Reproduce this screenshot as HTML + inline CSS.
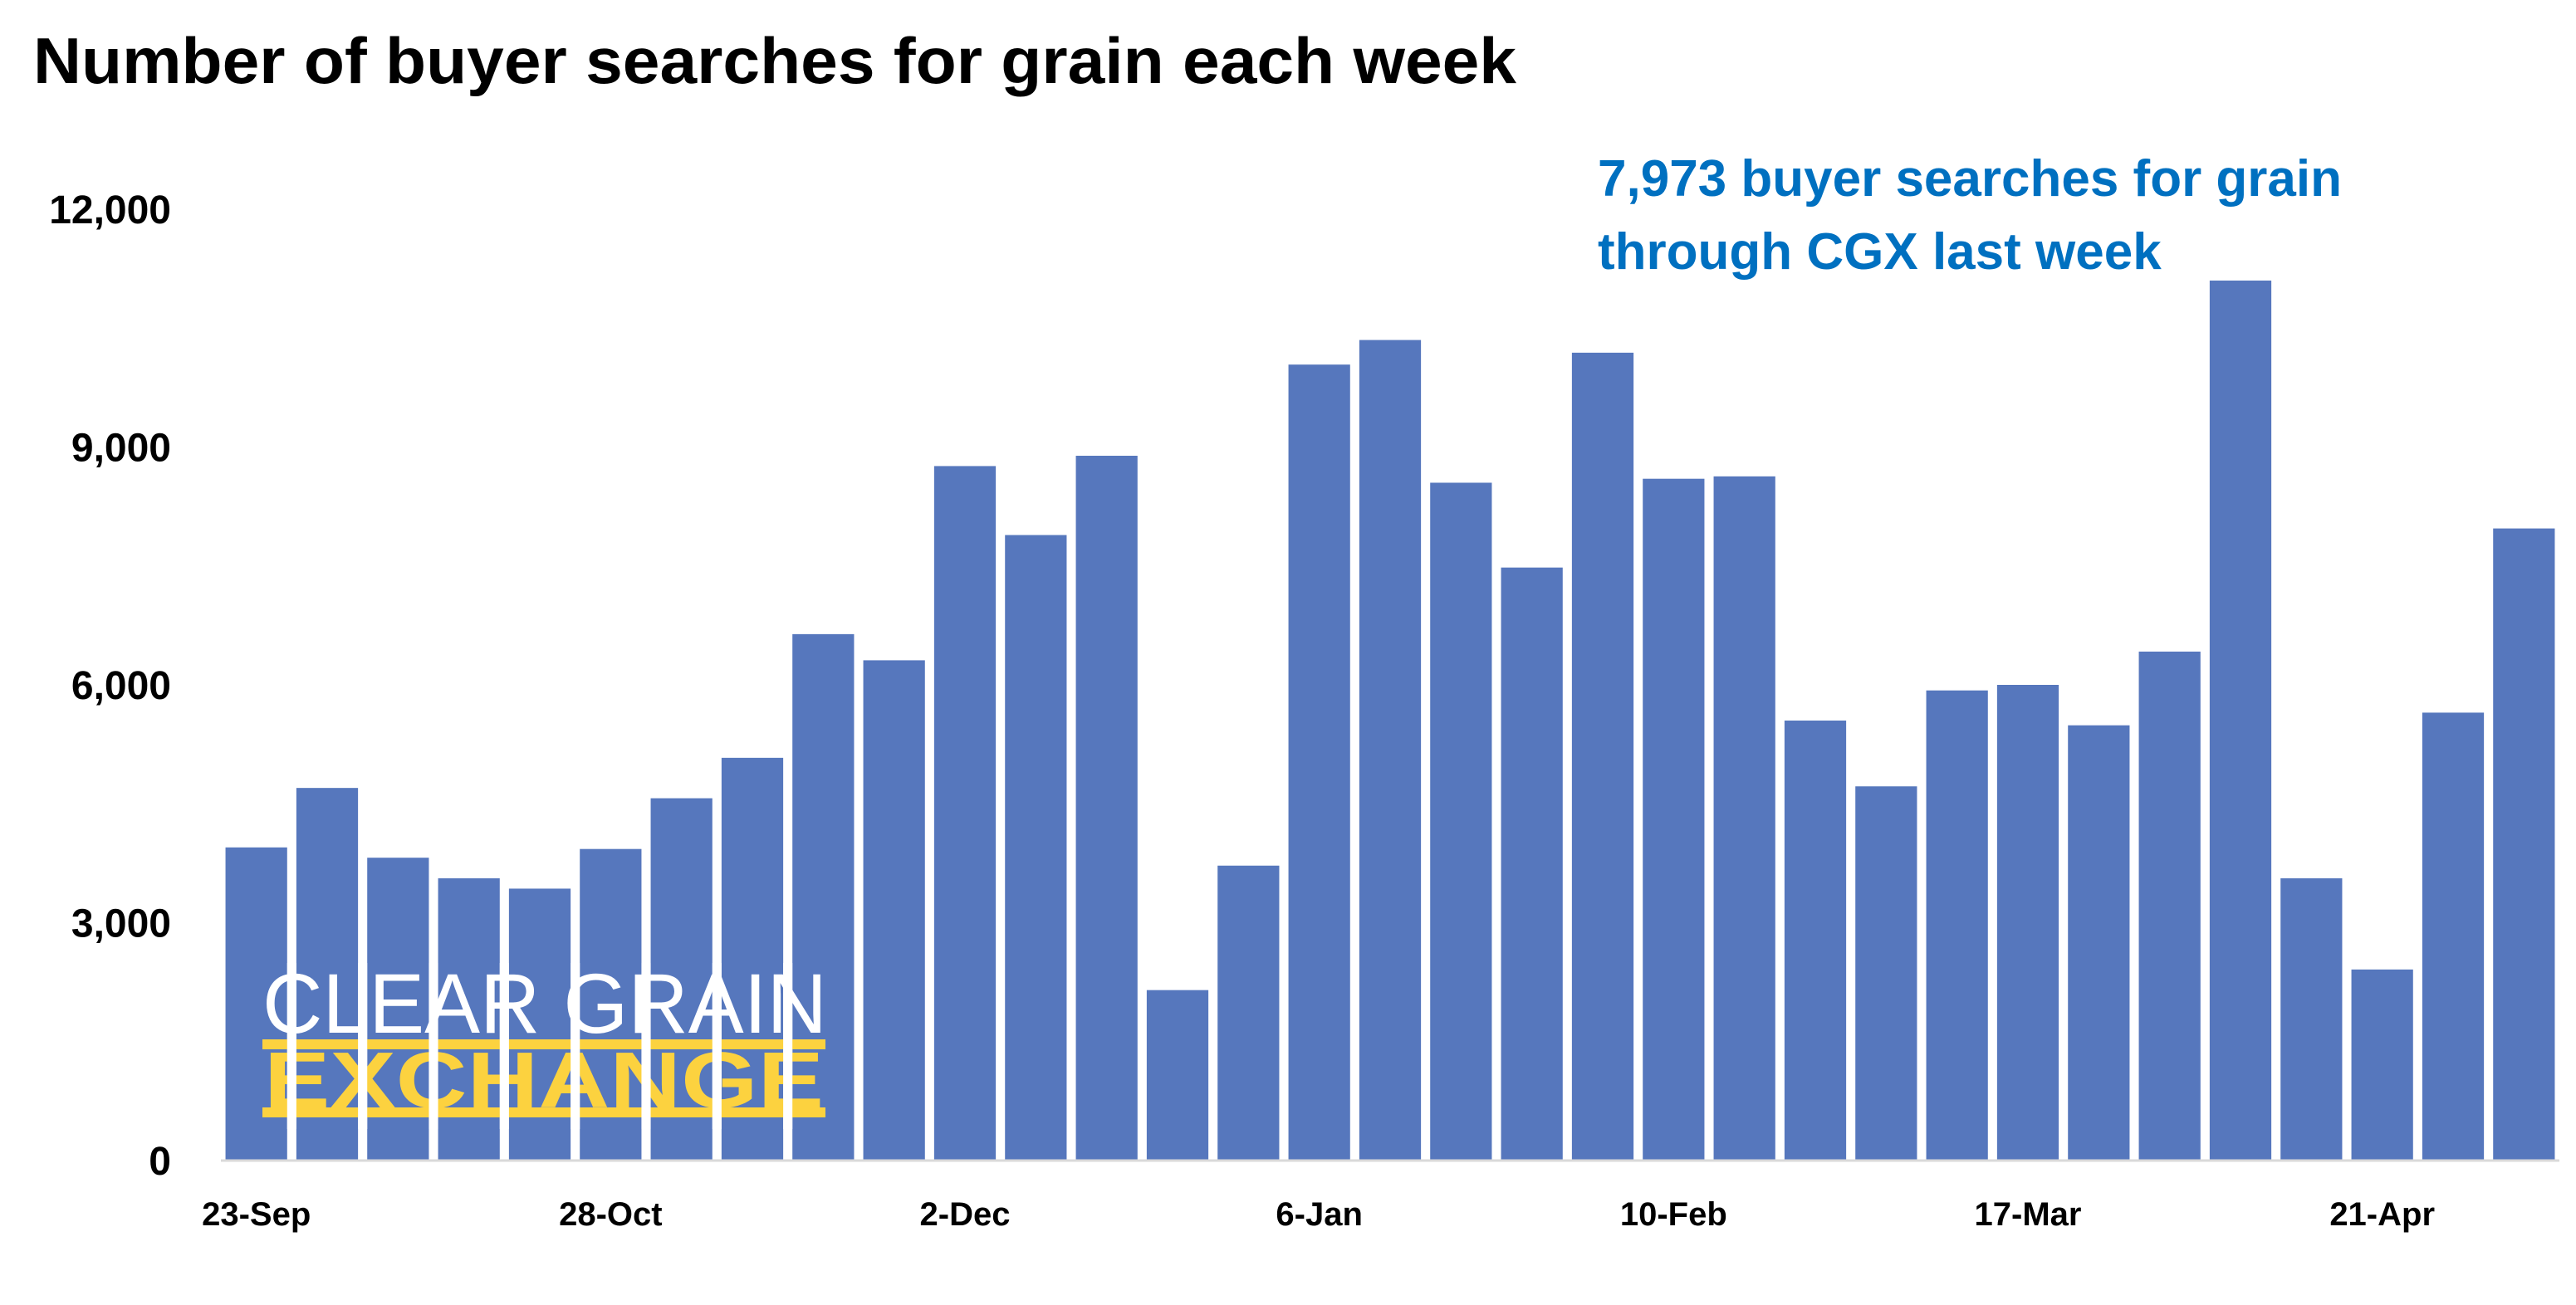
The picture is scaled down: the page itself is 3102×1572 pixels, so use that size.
<!DOCTYPE html>
<html><head><meta charset="utf-8"><style>
html,body{margin:0;padding:0;background:#fff;}
svg{display:block;font-family:"Liberation Sans",Arial,sans-serif;}
</style></head><body>
<svg id="chart" width="3102" height="1572" viewBox="0 0 3102 1572">
<text x="40" y="100" font-size="78" font-weight="bold" fill="#000" textLength="1786" lengthAdjust="spacingAndGlyphs">Number of buyer searches for grain each week</text>
<g id="yaxis"></g>
<g id="bars"></g>
<line x1="266" y1="1398" x2="3082" y2="1398" stroke="#d9d9d9" stroke-width="3"/>
<g id="xaxis"></g>
<g>
<text x="316" y="1244" font-size="102" fill="#fff" textLength="680" lengthAdjust="spacingAndGlyphs">CLEAR GRAIN</text>
<rect x="316" y="1252" width="678" height="12" fill="#FCD23F"/>
<rect x="316" y="1334" width="678" height="12" fill="#FCD23F"/>
<text x="318" y="1334" font-size="96" font-weight="bold" fill="#FCD23F" textLength="674" lengthAdjust="spacingAndGlyphs">EXCHANGE</text>
</g>
<g id="gaps"></g>
<text x="1924" y="236" font-size="62" font-weight="bold" fill="#0070C0">7,973 buyer searches for grain</text>
<text x="1924" y="324" font-size="62" font-weight="bold" fill="#0070C0">through CGX last week</text>
</svg>
<script>
const values = [3950,4700,3820,3560,3430,3930,4570,5080,6640,6310,8760,7890,8890,2150,3720,10040,10350,8550,7480,10190,8600,8630,5550,4720,5930,6000,5490,6420,11100,3560,2410,5650,7973];
const xLabels = ["23-Sep","28-Oct","2-Dec","6-Jan","10-Feb","17-Mar","21-Apr"];
const xLabelIdx = [0,5,10,15,20,25,30];
const yTicks = [0,3000,6000,9000,12000];
const NS="http://www.w3.org/2000/svg";
const x0=266, x1=3082, yBase=1398, yTop=252, yMax=12000;
const step=(x1-x0)/values.length, bw=step*0.87;
const yS=v=>yBase-(v/yMax)*(yBase-yTop);
const xS=i=>x0+i*step+(step-bw)/2;
function mk(t,a){const e=document.createElementNS(NS,t);for(const k in a)e.setAttribute(k,a[k]);return e;}
const yg=document.getElementById('yaxis');
yTicks.forEach(v=>{const t=mk('text',{x:206,y:yS(v)+17,'font-size':48,'font-weight':'bold','text-anchor':'end',fill:'#000'});


t.textContent=v.toLocaleString('en-US');yg.appendChild(t);});
const bg=document.getElementById('bars');
values.forEach((v,i)=>{const r=mk('rect',{x:xS(i),y:yS(v),width:bw,height:yBase-yS(v),fill:'#5677BD'});


bg.appendChild(r);});
const xg=document.getElementById('xaxis');
xLabels.forEach((l,j)=>{const t=mk('text',{x:xS(xLabelIdx[j])+bw/2,y:1476,'font-size':40,'font-weight':'bold','text-anchor':'middle',fill:'#000'});


t.textContent=l;xg.appendChild(t);});
const gg=document.getElementById('gaps');
for(let i=0;i<values.length-1;i++){const gx=xS(i)+bw;if(gx>300&&gx<1000){const r=mk('rect',{x:gx,y:1160,width:step-bw,height:200,fill:'#fff'});


gg.appendChild(r);}}
</script>
</body></html>
